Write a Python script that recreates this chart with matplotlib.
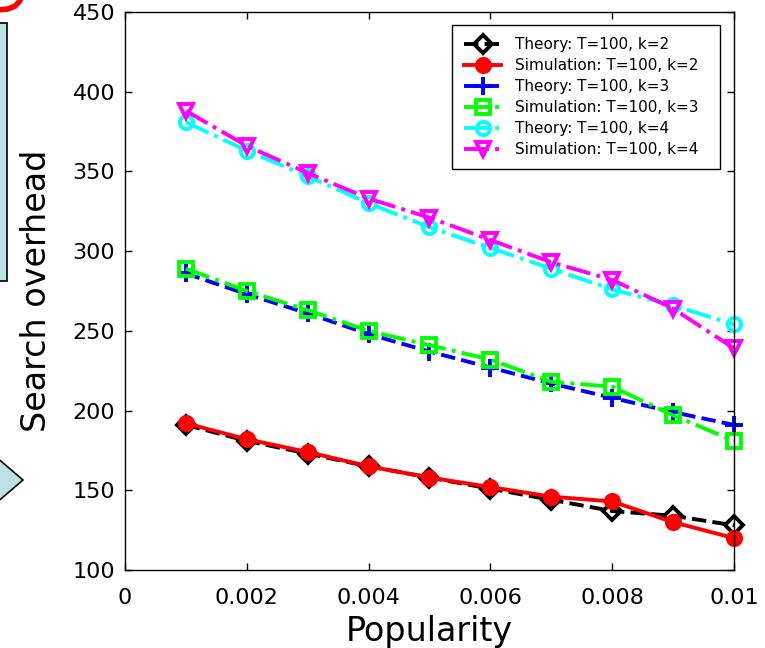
import matplotlib
matplotlib.use("Agg")
import matplotlib.pyplot as plt
from matplotlib.lines import Line2D
from matplotlib.patches import Polygon, Rectangle

plt.rcParams['font.family'] = ['DejaVu Sans']

popularity = [0.001, 0.002, 0.003, 0.004, 0.005, 0.006, 0.007, 0.008, 0.009, 0.010]

theory_k2 = [191, 181, 173, 165, 158, 151, 144, 137, 134, 128]
simulation_k2 = [192, 182, 174, 165, 158, 152, 146, 143, 130, 120]
theory_k3 = [286, 273, 261, 248, 237, 227, 217, 208, 199, 191]
simulation_k3 = [289, 275, 263, 250, 241, 232, 218, 215, 197, 181]
theory_k4 = [381, 363, 347, 330, 315, 302, 289, 276, 266, 254]
simulation_k4 = [388, 366, 349, 333, 321, 307, 293, 282, 264, 239]

series_labels = [
    "Theory: T=100, k=2",
    "Simulation: T=100, k=2",
    "Theory: T=100, k=3",
    "Simulation: T=100, k=3",
    "Theory: T=100, k=4",
    "Simulation: T=100, k=4",
]

x_ticks = [0, 0.002, 0.004, 0.006, 0.008, 0.01]
x_tick_labels = ["0", "0.002", "0.004", "0.006", "0.008", "0.01"]
y_ticks = [100, 150, 200, 250, 300, 350, 400, 450]

W, H = 765, 648


def px(x, y):
    # pixel position in the picture -> figure fraction
    return (x / W, 1 - y / H)


def draw_slide_bits(fig):
    # pieces of the surrounding slide that show at the left edge
    x0, y0 = px(-5, 281)
    x1, y1 = px(7, 23)
    box = Rectangle((x0, y0), x1 - x0, y1 - y0, transform=fig.transFigure,
                    facecolor='#bce2e6', edgecolor='black', linewidth=1.2)
    fig.add_artist(box)

    arrow = Polygon([px(-5, 456), px(23, 480), px(-5, 504)], closed=True,
                    transform=fig.transFigure, facecolor='#bce2e6',
                    edgecolor='black', linewidth=1.2)
    fig.add_artist(arrow)

    pts = [px(-3, 10), px(8, 9), px(15, 6), px(19, 2), px(22, -3)]
    hook = Line2D([p[0] for p in pts], [p[1] for p in pts], transform=fig.transFigure,
                  color='red', linewidth=4, solid_capstyle='round')
    fig.add_artist(hook)


def main():
    fig = plt.figure(figsize=(W / 100, H / 100), dpi=100)
    ax = fig.add_axes([125 / W, 1 - 570 / H, 609 / W, 558 / H])

    styles = [
        (theory_k2, 'black', '--', 'D', 'none'),
        (simulation_k2, 'red', '-', 'o', 'red'),
        (theory_k3, 'blue', '--', '+', 'none'),
        (simulation_k3, '#00ff00', '-.', 's', 'none'),
        (theory_k4, 'cyan', '-.', 'o', 'none'),
        (simulation_k4, 'magenta', '-.', 'v', 'none'),
    ]

    for (values, color, ls, marker, face), label in zip(styles, series_labels):
        ms = 13 if marker == '+' else 9.5
        ax.plot(popularity, values, color=color, linestyle=ls, linewidth=2.8,
                marker=marker, markersize=ms, markerfacecolor=face,
                markeredgecolor=color, markeredgewidth=2.8, label=label,
                clip_on=False)

    ax.set_xlim(0, 0.01)
    ax.set_ylim(100, 450)
    ax.set_xticks(x_ticks)
    ax.set_xticklabels(x_tick_labels)
    ax.set_yticks(y_ticks)
    ax.tick_params(direction='in', length=5, width=1, top=True, right=True,
                   labelsize=16)
    ax.tick_params(axis='x', pad=13)
    ax.tick_params(axis='y', pad=7)
    for spine in ax.spines.values():
        spine.set_linewidth(1)

    ax.set_xlabel("Popularity", fontsize=24, labelpad=5)
    ax.set_ylabel("Search overhead", fontsize=24, labelpad=14)

    # legend box stretched to the width it has in the picture
    leg_left = (452 - 125) / 609
    leg_width = (720 - 452) / 609
    leg = ax.legend(loc='upper left', bbox_to_anchor=(leg_left, 0.977, leg_width, 0),
                    mode='expand', borderaxespad=0, fontsize=11, fancybox=False,
                    edgecolor='black', framealpha=1, handlelength=2.4,
                    labelspacing=0.39, borderpad=0.8, handletextpad=0.9)
    leg.get_frame().set_linewidth(1)

    draw_slide_bits(fig)

    fig.savefig("out.png", dpi=100)
    plt.close(fig)


if __name__ == "__main__":
    main()
